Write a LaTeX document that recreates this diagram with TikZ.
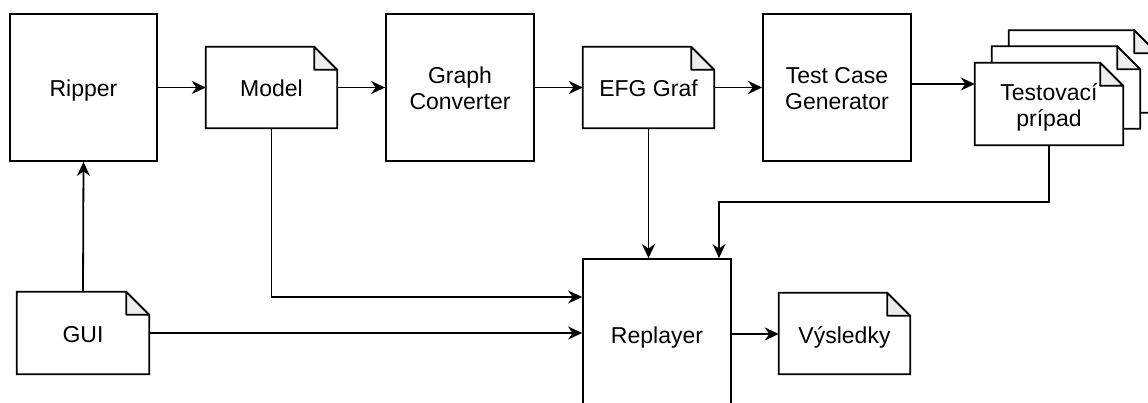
\documentclass[tikz,border=0pt]{standalone}
\usepackage{fontspec}
\setmainfont{Liberation Sans}
\usetikzlibrary{arrows.meta,calc}

% Draws the outline of a note shape (folded top-right corner) around a node
\newcommand{\notebody}[1]{%
  \draw[line width=1.8pt, fill=white]
    (#1.south west) -- (#1.north west) -- ([xshift=-23pt]#1.north east)
    -- ([yshift=-23pt]#1.north east) -- (#1.south east) -- cycle;
  \draw[line width=1.8pt, fill=black!7, line join=round]
    ([xshift=-23pt]#1.north east) -- ([xshift=-23pt,yshift=-23pt]#1.north east)
    -- ([yshift=-23pt]#1.north east) -- cycle;}

\begin{document}
\begin{tikzpicture}[x=1pt, y=-1pt,
  every node/.style={font=\fontsize{23pt}{26pt}\selectfont, align=center,
    inner sep=0pt, text height=24pt, text depth=5pt},
  two lines/.style={text height=50pt},
  block/.style={draw, line width=1.8pt, fill=white, minimum width=148pt, minimum height=147pt},
  note/.style={minimum width=131pt, minimum height=81pt},
  wide note/.style={minimum width=148pt, minimum height=82pt},
  arr/.style={line width=1.8pt, -{Stealth[length=14pt, width=13pt, inset=4.5pt]}}]

\useasboundingbox (0,0) rectangle (1148,403);

% processing blocks
\node[block, minimum width=147pt] (ripper) at (83.5,87.5) {Ripper};
\node[block, two lines] (gc)  at (460,87.5) {Graph\\Converter};
\node[block, two lines] (tcg) at (837,87.5) {Test Case\\Generator};
\node[block, minimum height=150pt] (rep) at (657,334) {Replayer};

% artefacts (note shapes): outlines first, then the labels
\node[note] (model) at (271.5,87.5) {};
\notebody{model}
\node at (model) {Model};

\node[note] (efg) at (648.5,87.5) {};
\notebody{efg}
\node at (efg) {EFG Graf};

\node[note] (vys) at (844.5,333.5) {};
\notebody{vys}
\node at (vys) {Výsledky};

\node[note, minimum width=132pt, minimum height=82pt] (gui) at (83,333) {};
\notebody{gui}
\node at (gui) {GUI};

% stack of test cases, back to front
\node[wide note] (tc3) at (1083,71.5) {};
\notebody{tc3}
\node[wide note] (tc2) at (1066,87.5) {};
\notebody{tc2}
\node[wide note] (tc1) at (1049,104) {};
\notebody{tc1}
\node[two lines] at (tc1) {Testovací\\prípad};

% connectors
\draw[arr] (ripper.east) -- (model.west);
\draw[arr] (model.east) -- (gc.west);
\draw[arr] (gc.east) -- (efg.west);
\draw[arr] (efg.east) -- (tcg.west);
\draw[arr] ([yshift=3.5pt]tcg.east) -- ([yshift=3.5pt]tcg.east -| tc1.west);
\draw[arr] (gui.north) -- (ripper.south);
\draw[arr] (model.south) |- ([yshift=37pt]rep.west);
\draw[arr] (gui.east) -- (gui.east -| rep.west);
\draw[arr] (efg.south) -- (efg.south |- rep.north);
\coordinate (tcbend) at ($(tc1.south)+(0,57)$);
\draw[arr] (tc1.south) -- (tcbend) -| ([xshift=62pt]rep.north);
\draw[arr] (rep.east) -- (rep.east -| vys.west);
\end{tikzpicture}
\end{document}
